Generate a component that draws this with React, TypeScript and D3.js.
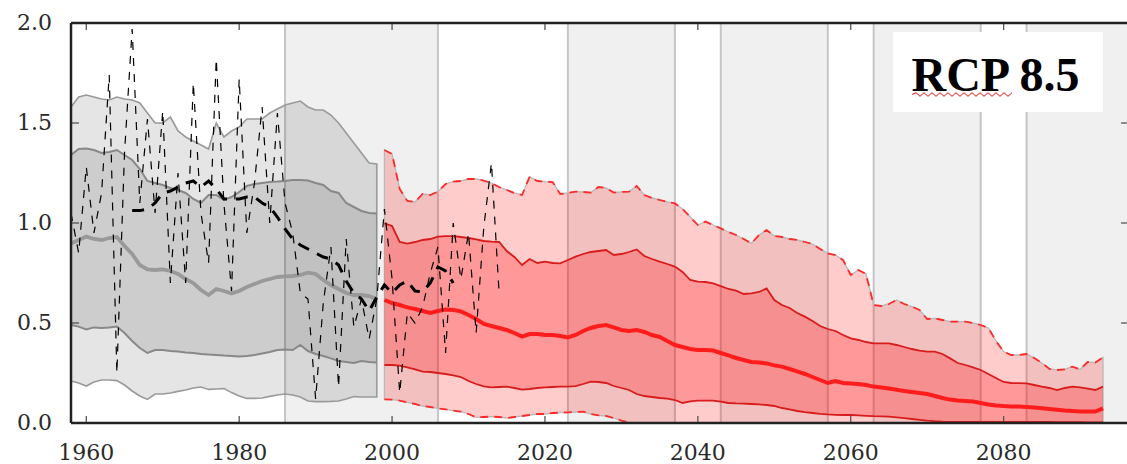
import React from 'react';
import * as d3 from 'd3';

// ---------- data ----------
const HIST_START = 1958; // historical simulations 1958-1998
const PROJ_START = 1999; // RCP 8.5 projections 1999-2093
const SMOOTH_START = 1966; // smoothed observations
const OBS_START = 1958; // annual observations

const histOuterHi = [1.58, 1.63, 1.64, 1.63, 1.62, 1.615, 1.63, 1.62, 1.615, 1.6,
  1.55, 1.5, 1.5, 1.53, 1.46, 1.43, 1.41, 1.39, 1.37, 1.5,
  1.43, 1.46, 1.48, 1.52, 1.52, 1.52, 1.55, 1.57, 1.59, 1.6,
  1.61, 1.58, 1.565, 1.565, 1.54, 1.5, 1.45, 1.4, 1.35, 1.3, 1.295];
const histInnerHi = [1.34, 1.37, 1.373, 1.365, 1.35, 1.355, 1.365, 1.34, 1.315, 1.27,
  1.21, 1.2, 1.19, 1.175, 1.165, 1.15, 1.12, 1.1, 1.14, 1.14,
  1.115, 1.13, 1.155, 1.185, 1.195, 1.2, 1.205, 1.207, 1.21, 1.215,
  1.215, 1.212, 1.2, 1.19, 1.16, 1.15, 1.1, 1.08, 1.06, 1.05, 1.048];
const histMedian = [0.898, 0.915, 0.932, 0.92, 0.915, 0.925, 0.93, 0.885, 0.845, 0.79,
  0.768, 0.765, 0.768, 0.76, 0.745, 0.72, 0.7, 0.665, 0.64, 0.67,
  0.66, 0.648, 0.66, 0.68, 0.695, 0.71, 0.72, 0.73, 0.733, 0.735,
  0.74, 0.752, 0.745, 0.715, 0.69, 0.67, 0.65, 0.64, 0.64, 0.635, 0.62];
const histInnerLo = [0.49, 0.482, 0.468, 0.478, 0.475, 0.478, 0.482, 0.45, 0.41, 0.375,
  0.35, 0.365, 0.365, 0.36, 0.357, 0.352, 0.35, 0.345, 0.342, 0.34,
  0.337, 0.335, 0.332, 0.335, 0.34, 0.348, 0.355, 0.365, 0.368, 0.365,
  0.39, 0.36, 0.345, 0.335, 0.323, 0.31, 0.305, 0.3, 0.31, 0.305, 0.302];
const histOuterLo = [0.21, 0.2, 0.185, 0.205, 0.215, 0.215, 0.212, 0.19, 0.16, 0.135,
  0.118, 0.145, 0.145, 0.15, 0.158, 0.165, 0.175, 0.18, 0.168, 0.17,
  0.172, 0.152, 0.135, 0.123, 0.123, 0.125, 0.133, 0.14, 0.145, 0.14,
  0.13, 0.11, 0.107, 0.107, 0.108, 0.11, 0.12, 0.132, 0.13, 0.13, 0.13];

const projOuterHi = [1.365, 1.345, 1.17, 1.11, 1.105, 1.145, 1.14, 1.157, 1.195, 1.207,
  1.21, 1.22, 1.22, 1.212, 1.2, 1.18, 1.165, 1.15, 1.14, 1.232,
  1.21, 1.207, 1.205, 1.145, 1.15, 1.157, 1.155, 1.152, 1.18, 1.175,
  1.152, 1.155, 1.157, 1.185, 1.14, 1.125, 1.115, 1.105, 1.098, 1.07,
  1.03, 0.99, 1.007, 0.99, 0.973, 0.955, 0.94, 0.92, 0.898, 0.94,
  0.965, 0.935, 0.93, 0.92, 0.915, 0.905, 0.895, 0.87, 0.848, 0.84,
  0.815, 0.74, 0.765, 0.745, 0.59, 0.585, 0.595, 0.615, 0.595, 0.582,
  0.565, 0.52, 0.523, 0.515, 0.507, 0.507, 0.507, 0.5, 0.49, 0.475,
  0.41, 0.357, 0.34, 0.34, 0.345, 0.325, 0.3, 0.27, 0.265, 0.268,
  0.282, 0.268, 0.305, 0.302, 0.328];
const projInnerHi = [0.998, 0.985, 0.905, 0.897, 0.905, 0.915, 0.92, 0.932, 0.934, 0.934,
  0.93, 0.925, 0.918, 0.91, 0.907, 0.905, 0.86, 0.83, 0.79, 0.82,
  0.8, 0.807, 0.8, 0.798, 0.815, 0.832, 0.845, 0.855, 0.86, 0.865,
  0.84, 0.845, 0.855, 0.868, 0.835, 0.82, 0.807, 0.795, 0.782, 0.755,
  0.715, 0.707, 0.705, 0.698, 0.684, 0.67, 0.662, 0.645, 0.648, 0.655,
  0.673, 0.615, 0.59, 0.575, 0.55, 0.532, 0.51, 0.485, 0.47, 0.46,
  0.44, 0.423, 0.415, 0.405, 0.398, 0.398, 0.398, 0.39, 0.38, 0.37,
  0.362, 0.357, 0.357, 0.345, 0.323, 0.3, 0.29, 0.278, 0.265, 0.245,
  0.225, 0.205, 0.2, 0.199, 0.198, 0.19, 0.182, 0.175, 0.165, 0.175,
  0.182, 0.178, 0.172, 0.165, 0.182];
const projMedian = [0.615, 0.6, 0.59, 0.578, 0.57, 0.56, 0.55, 0.56, 0.567, 0.565,
  0.558, 0.54, 0.52, 0.495, 0.485, 0.475, 0.465, 0.45, 0.432, 0.445,
  0.445, 0.44, 0.44, 0.435, 0.428, 0.44, 0.46, 0.475, 0.485, 0.49,
  0.478, 0.465, 0.46, 0.465, 0.455, 0.44, 0.43, 0.41, 0.39, 0.38,
  0.37, 0.365, 0.365, 0.362, 0.35, 0.338, 0.325, 0.315, 0.305, 0.302,
  0.298, 0.288, 0.282, 0.27, 0.258, 0.245, 0.23, 0.215, 0.2, 0.21,
  0.2, 0.198, 0.195, 0.19, 0.182, 0.178, 0.172, 0.166, 0.16, 0.155,
  0.15, 0.145, 0.135, 0.125, 0.117, 0.112, 0.11, 0.107, 0.1, 0.093,
  0.088, 0.085, 0.083, 0.082, 0.08, 0.077, 0.074, 0.07, 0.066, 0.062,
  0.06, 0.057, 0.057, 0.057, 0.073];
const projInnerLo = [0.29, 0.29, 0.287, 0.278, 0.268, 0.257, 0.255, 0.25, 0.245, 0.238,
  0.23, 0.21, 0.195, 0.183, 0.178, 0.18, 0.182, 0.175, 0.167, 0.17,
  0.175, 0.178, 0.18, 0.182, 0.182, 0.184, 0.195, 0.207, 0.205, 0.2,
  0.185, 0.175, 0.165, 0.145, 0.135, 0.13, 0.125, 0.122, 0.115, 0.1,
  0.108, 0.112, 0.112, 0.112, 0.107, 0.1, 0.098, 0.097, 0.095, 0.093,
  0.09, 0.085, 0.075, 0.068, 0.06, 0.054, 0.05, 0.046, 0.043, 0.041,
  0.04, 0.04, 0.038, 0.036, 0.034, 0.033, 0.032, 0.028, 0.024, 0.02,
  0.016, 0.012, 0.009, 0.007, 0.006, 0.005, 0.005, 0.005, 0.005, 0.005,
  0.005, 0.005, 0.005, 0.005, 0.005, 0.005, 0.005, 0.005, 0.004, 0.004,
  0.004, 0.004, 0.003, 0.003, 0.003];
const projOuterLo = [0.118, 0.117, 0.112, 0.103, 0.095, 0.085, 0.08, 0.073, 0.068, 0.062,
  0.057, 0.045, 0.028, 0.03, 0.032, 0.03, 0.025, 0.03, 0.035, 0.04,
  0.045, 0.045, 0.05, 0.052, 0.053, 0.055, 0.057, 0.045, 0.038, 0.035,
  0.025, 0.012, 0.003, -0.01, -0.02, -0.03, -0.04, -0.05, -0.06, -0.07,
  -0.08, -0.08, -0.09, -0.09, -0.1, -0.1, -0.11, -0.11, -0.12, -0.12,
  -0.12, -0.13, -0.13, -0.13, -0.14, -0.14, -0.14, -0.15, -0.15, -0.15,
  -0.15, -0.16, -0.16, -0.16, -0.16, -0.17, -0.17, -0.17, -0.17, -0.17,
  -0.18, -0.18, -0.18, -0.18, -0.18, -0.18, -0.19, -0.19, -0.19, -0.19,
  -0.19, -0.19, -0.19, -0.2, -0.2, -0.2, -0.2, -0.2, -0.2, -0.2,
  -0.2, -0.2, -0.2, -0.2, -0.2];

const obsSmooth = [1.062, 1.062, 1.07, 1.1, 1.15, 1.16, 1.18, 1.2, 1.21, 1.18,
  1.21, 1.17, 1.12, 1.12, 1.12, 1.13, 1.13, 1.1, 1.08, 1.03,
  0.97, 0.92, 0.89, 0.87, 0.85, 0.83, 0.82, 0.79, 0.71, 0.65,
  0.62, 0.56, 0.63, 0.69, 0.65, 0.69, 0.71, 0.66, 0.655, 0.7,
  0.78, 0.76, 0.7];
const obsAnnual = [1.05, 0.85, 1.28, 0.95, 1.15, 1.74, 0.25, 1.35, 1.97, 1.1,
  1.52, 1.05, 1.56, 0.7, 1.25, 0.7, 1.7, 1.05, 0.8, 1.82,
  1.1, 0.66, 1.72, 0.95, 1.2, 1.58, 1.0, 1.55, 1.1, 0.95,
  0.65, 0.62, 0.12, 0.6, 0.88, 0.18, 0.92, 0.48, 0.62, 0.42,
  0.62, 1.07, 0.72, 0.15, 0.55, 0.5, 0.58, 0.75, 0.88, 0.35,
  1.0, 0.72, 0.95, 0.45, 0.98, 1.3, 0.65];

const Y_TICKS = [0, 0.5, 1.0, 1.5, 2.0];
const X_TICKS = [1960, 1980, 2000, 2020, 2040, 2060, 2080];
const SHADED_PERIODS = [[1986, 2006], [2023, 2037], [2043, 2057], [2063, 2077], [2083, 2100]];
const PERIOD_EDGES = [1986, 2006, 2023, 2037, 2043, 2057, 2063, 2077, 2083];
const LABEL = 'RCP 8.5';
const X_DOMAIN = [1958, 2096.4];
const Y_DOMAIN = [0, 2];

export default function App() {
  const W = 1127, H = 464;
  const L = 71, R = 1129, T = 23, B = 423;
  const x = d3.scaleLinear().domain(X_DOMAIN).range([L, R]);
  const y = d3.scaleLinear().domain(Y_DOMAIN).range([B, T]);

  const band = (start: number, hi: number[], lo: number[]) =>
    d3.area<number>()
      .x((_, i) => x(start + i))
      .y0((_, i) => y(lo[i]))
      .y1((d) => y(d))(hi) || '';
  const line = (start: number, vals: number[]) =>
    d3.line<number>().x((_, i) => x(start + i)).y((d) => y(d))(vals) || '';

  // wavy spell-check underline under "RCP"
  const wx0 = 912, wx1 = 1010, wy = 94.5;
  const wp = d3.path();
  wp.moveTo(wx0, wy);
  let k = 0;
  for (let xx = wx0; xx < wx1; xx += 4) {
    wp.lineTo(xx + 4, wy + (k % 2 === 0 ? -1.8 : 1.8));
    k++;
  }

  const font = '"DejaVu Serif", serif';

  return (
    <div style={{ position: 'absolute', left: 0, top: 0 }}>
      <svg width={W} height={H} style={{ display: 'block', background: '#fff' }}>
        <defs>
          <clipPath id="plotclip">
            <rect x={L} y={T} width={R - L} height={B - T} />
          </clipPath>
        </defs>
        <g clipPath="url(#plotclip)">
          {SHADED_PERIODS.map(([a, b], i) => (
            <rect key={'s' + i} x={x(a)} y={T} width={x(b) - x(a)} height={B - T} fill="#f0f0f0" />
          ))}
          {PERIOD_EDGES.map((yr, i) => (
            <line key={'e' + i} x1={x(yr)} x2={x(yr)} y1={T} y2={B} stroke="#c6c6c6" strokeWidth={2} />
          ))}

          {/* historical envelope */}
          <path d={band(HIST_START, histOuterHi, histOuterLo)} fill="rgba(0,0,0,0.1)" stroke="#9a9a9a" strokeWidth={1.6} />
          <path d={band(HIST_START, histInnerHi, histInnerLo)} fill="rgba(0,0,0,0.1)" stroke="none" />
          <path d={line(HIST_START, histInnerHi)} fill="none" stroke="#888" strokeWidth={2} />
          <path d={line(HIST_START, histInnerLo)} fill="none" stroke="#888" strokeWidth={2} />
          <path d={line(HIST_START, histMedian)} fill="none" stroke="#999" strokeWidth={3.8} />

          {/* RCP 8.5 envelope */}
          <path d={band(PROJ_START, projOuterHi, projOuterLo)} fill="rgba(255,0,0,0.2)" stroke="#b8b8b8" strokeWidth={1.3} />
          <path d={line(PROJ_START, projOuterHi)} fill="none" stroke="#ff2a2a" strokeWidth={1.8} strokeDasharray="8,6" />
          <path d={line(PROJ_START, projOuterLo)} fill="none" stroke="#ff2a2a" strokeWidth={1.8} strokeDasharray="8,6" />
          <path d={band(PROJ_START, projInnerHi, projInnerLo)} fill="rgba(255,0,0,0.25)" stroke="none" />
          <path d={line(PROJ_START, projInnerHi)} fill="none" stroke="#d81c1c" strokeWidth={1.8} />
          <path d={line(PROJ_START, projInnerLo)} fill="none" stroke="#d81c1c" strokeWidth={1.8} />
          <path d={line(PROJ_START, projMedian)} fill="none" stroke="#ff1c1c" strokeWidth={4} />

          {/* observations */}
          <path d={line(OBS_START, obsAnnual)} fill="none" stroke="#000" strokeWidth={1.2} strokeDasharray="8,8" />
          <path d={line(SMOOTH_START, obsSmooth)} fill="none" stroke="#000" strokeWidth={3} strokeDasharray="12,9" />
        </g>

        {/* ticks */}
        {X_TICKS.map((t) => (
          <g key={'xt' + t}>
            <line x1={x(t)} x2={x(t)} y1={B} y2={B - 7} stroke="#555" strokeWidth={1.3} />
            <line x1={x(t)} x2={x(t)} y1={T} y2={T + 7} stroke="#555" strokeWidth={1.3} />
            <text x={x(t)} y={460} textAnchor="middle" fontFamily={font} fontSize={22} fill="#2a2a2a">{t}</text>
          </g>
        ))}
        {Y_TICKS.map((t) => (
          <g key={'yt' + t}>
            <line x1={L} x2={L + 8} y1={y(t)} y2={y(t)} stroke="#555" strokeWidth={1.3} />
            <line x1={R - 8} x2={R} y1={y(t)} y2={y(t)} stroke="#555" strokeWidth={1.3} />
            <text x={52} y={y(t) + 7} textAnchor="end" fontFamily={font} fontSize={22} fill="#2a2a2a">{t.toFixed(1)}</text>
          </g>
        ))}

        {/* spines */}
        <line x1={L} x2={R} y1={T} y2={T} stroke="#222" strokeWidth={2.5} />
        <line x1={L} x2={R} y1={B} y2={B} stroke="#222" strokeWidth={2.5} />
        <line x1={L} x2={L} y1={T} y2={B} stroke="#222" strokeWidth={2.5} />

        {/* label box */}
        <rect x={893} y={32} width={210} height={80} fill="#fff" />
        <text x={911.5} y={90.5} fontFamily='"Liberation Serif", "Times New Roman", serif' fontWeight="bold" fontSize={48} fill="#000">{LABEL}</text>
        <path d={wp.toString()} fill="none" stroke="#e81010" strokeWidth={1} />
      </svg>
    </div>
  );
}
